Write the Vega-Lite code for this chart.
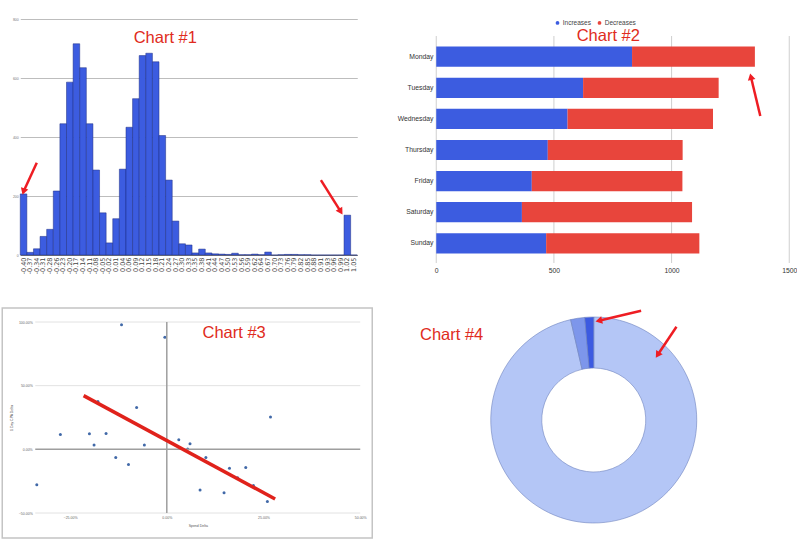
{
  "$schema": "https://vega.github.io/schema/vega-lite/v6.json",
  "background": "white",
  "padding": {"left": 1.25, "top": 17, "right": 0, "bottom": 0},
  "spacing": 33,
  "resolve": {"scale": {"color": "independent"}, "legend": {"color": "independent"}},
  "config": {
    "view": {"stroke": null},
    "font": "Liberation Sans",
    "axis": {"ticks": false, "domain": false, "labelFlush": false, "labelFont": "Liberation Sans", "titleFont": "Liberation Sans"}
  },
  "vconcat": [
    {
      "spacing": 37,
      "resolve": {"scale": {"color": "independent"}, "legend": {"color": "independent"}},
      "hconcat": [
        {
          "width": 337,
          "height": 236,
          "layer": [
            {
              "data": {"values": [
                {"bin": "-0.40", "count": 207}, {"bin": "-0.37", "count": 9}, {"bin": "-0.34", "count": 21},
                {"bin": "-0.31", "count": 63}, {"bin": "-0.28", "count": 87}, {"bin": "-0.26", "count": 217},
                {"bin": "-0.23", "count": 445}, {"bin": "-0.20", "count": 586}, {"bin": "-0.17", "count": 716},
                {"bin": "-0.14", "count": 635}, {"bin": "-0.11", "count": 445}, {"bin": "-0.08", "count": 288},
                {"bin": "-0.05", "count": 143}, {"bin": "-0.02", "count": 41}, {"bin": "0.01", "count": 123},
                {"bin": "0.04", "count": 291}, {"bin": "0.06", "count": 433}, {"bin": "0.09", "count": 530},
                {"bin": "0.12", "count": 676}, {"bin": "0.15", "count": 684}, {"bin": "0.18", "count": 655},
                {"bin": "0.21", "count": 405}, {"bin": "0.24", "count": 254}, {"bin": "0.27", "count": 115},
                {"bin": "0.30", "count": 38}, {"bin": "0.33", "count": 34}, {"bin": "0.35", "count": 7},
                {"bin": "0.38", "count": 20}, {"bin": "0.41", "count": 7}, {"bin": "0.44", "count": 4},
                {"bin": "0.47", "count": 3}, {"bin": "0.50", "count": 2}, {"bin": "0.53", "count": 6},
                {"bin": "0.56", "count": 1}, {"bin": "0.59", "count": 1}, {"bin": "0.62", "count": 3},
                {"bin": "0.64", "count": 1}, {"bin": "0.67", "count": 10}, {"bin": "0.70", "count": 0},
                {"bin": "0.73", "count": 1}, {"bin": "0.76", "count": 2}, {"bin": "0.79", "count": 2},
                {"bin": "0.82", "count": 1}, {"bin": "0.85", "count": 1}, {"bin": "0.88", "count": 0},
                {"bin": "0.91", "count": 0}, {"bin": "0.93", "count": 0}, {"bin": "0.96", "count": 0},
                {"bin": "0.99", "count": 0}, {"bin": "1.02", "count": 135}, {"bin": "1.05", "count": 0}
              ]},
              "mark": {"type": "bar", "color": "#3c5ce0", "stroke": "#1d2d80", "strokeWidth": 0.5},
              "encoding": {
                "x": {
                  "field": "bin", "type": "ordinal", "sort": null, "title": null,
                  "scale": {"paddingInner": 0, "paddingOuter": 0},
                  "axis": {"labelAngle": -90, "labelFontSize": 6.5, "labelFont": "DejaVu Sans", "labelColor": "#444",
                           "labelPadding": 2, "labelOverlap": false, "domain": true, "domainColor": "#777"}
                },
                "y": {
                  "field": "count", "type": "quantitative", "title": null,
                  "scale": {"domain": [0, 800]},
                  "axis": {"values": [0, 200, 400, 600, 800], "labelFontSize": 3.5, "labelColor": "#777",
                           "labelPadding": 2, "gridColor": "#bdbdbd", "minExtent": 10}
                }
              }
            },
            {
              "data": {"values": [{}]},
              "mark": {"type": "rule", "color": "#ee1d23", "strokeWidth": 2.5},
              "encoding": {
                "x": {"datum": "-0.34", "type": "ordinal"}, "x2": {"datum": "-0.40"},
                "y": {"datum": 313, "type": "quantitative"}, "y2": {"datum": 215}
              }
            },
            {
              "data": {"values": [{}]},
              "mark": {"type": "point", "shape": "triangle-up", "filled": true, "opacity": 1, "color": "#ee1d23", "size": 60, "angle": 198},
              "encoding": {"x": {"datum": "-0.40", "type": "ordinal"}, "y": {"datum": 215, "type": "quantitative"}}
            },
            {
              "data": {"values": [{}]},
              "mark": {"type": "rule", "color": "#ee1d23", "strokeWidth": 2.5},
              "encoding": {
                "x": {"datum": "0.91", "type": "ordinal"}, "x2": {"datum": "0.99"},
                "y": {"datum": 254, "type": "quantitative"}, "y2": {"datum": 147}
              }
            },
            {
              "data": {"values": [{}]},
              "mark": {"type": "point", "shape": "triangle-up", "filled": true, "opacity": 1, "color": "#ee1d23", "size": 60, "angle": 148},
              "encoding": {"x": {"datum": "0.99", "type": "ordinal"}, "y": {"datum": 147, "type": "quantitative"}}
            },
            {
              "data": {"values": [{}]},
              "mark": {"type": "text", "text": "Chart #1", "fontSize": 16.5, "color": "#e02b20", "dx": 3, "baseline": "middle"},
              "encoding": {"x": {"datum": "0.21", "type": "ordinal"}, "y": {"datum": 735, "type": "quantitative"}}
            }
          ]
        },
        {
          "width": 353,
          "height": 244,
          "resolve": {"scale": {"y": "independent"}},
          "layer": [
            {
              "data": {"values": [{"g": 0}, {"g": 500}, {"g": 1000}, {"g": 1500}]},
              "mark": {"type": "rule", "color": "#cfcfcf", "strokeWidth": 1},
              "encoding": {
                "x": {"field": "g", "type": "quantitative", "title": null},
                "y": {"datum": 0.547, "type": "quantitative", "scale": {"domain": [0, 7.846], "reverse": true, "nice": false, "zero": false}, "axis": null},
                "y2": {"datum": 7.846}
              }
            },
            {
              "data": {"values": [
                {"day": "Monday", "type": "Increases", "value": 832}, {"day": "Monday", "type": "Decreases", "value": 522},
                {"day": "Tuesday", "type": "Increases", "value": 624}, {"day": "Tuesday", "type": "Decreases", "value": 576},
                {"day": "Wednesday", "type": "Increases", "value": 558}, {"day": "Wednesday", "type": "Decreases", "value": 618},
                {"day": "Thursday", "type": "Increases", "value": 474}, {"day": "Thursday", "type": "Decreases", "value": 573},
                {"day": "Friday", "type": "Increases", "value": 406}, {"day": "Friday", "type": "Decreases", "value": 640},
                {"day": "Saturday", "type": "Increases", "value": 364}, {"day": "Saturday", "type": "Decreases", "value": 723},
                {"day": "Sunday", "type": "Increases", "value": 467}, {"day": "Sunday", "type": "Decreases", "value": 651}
              ]},
              "mark": {"type": "bar"},
              "encoding": {
                "y": {
                  "field": "day", "type": "nominal", "sort": null, "title": null,
                  "scale": {"paddingInner": 0.35, "paddingOuter": 0.598, "align": 0.742},
                  "axis": {"labelFontSize": 6.8, "labelColor": "#333", "labelPadding": 3.3, "minExtent": 41}
                },
                "x": {
                  "field": "value", "type": "quantitative", "stack": "zero", "title": null,
                  "scale": {"domain": [0, 1500], "nice": false},
                  "axis": {"values": [0, 500, 1000, 1500], "format": "d", "grid": false, "labelFontSize": 6.8, "labelColor": "#333", "labelPadding": 4}
                },
                "color": {
                  "field": "type", "type": "nominal",
                  "scale": {"domain": ["Increases", "Decreases"], "range": ["#3c5ce0", "#e8453c"]},
                  "legend": {"orient": "none", "legendX": 118, "legendY": 0.5, "direction": "horizontal", "title": null,
                             "symbolType": "circle", "symbolSize": 14, "symbolStrokeWidth": 0, "labelFontSize": 6.5,
                             "labelColor": "#444", "labelOffset": 2, "columnPadding": 5, "padding": 0}
                },
                "order": {"field": "type", "sort": "descending"}
              }
            },
            {
              "data": {"values": [{}]},
              "mark": {"type": "text", "text": "Chart #2", "fontSize": 16.5, "color": "#e02b20", "baseline": "middle"},
              "encoding": {
                "x": {"datum": 731, "type": "quantitative"},
                "y": {"datum": 0.547, "type": "quantitative", "scale": {"domain": [0, 7.846], "reverse": true, "nice": false, "zero": false}, "axis": null}
              }
            },
            {
              "data": {"values": [{}]},
              "mark": {"type": "rule", "color": "#ee1d23", "strokeWidth": 2.5},
              "encoding": {
                "x": {"datum": 1377, "type": "quantitative"}, "x2": {"datum": 1337},
                "y": {"datum": 3.119, "type": "quantitative", "scale": {"domain": [0, 7.846], "reverse": true, "nice": false, "zero": false}, "axis": null},
                "y2": {"datum": 1.855}
              }
            },
            {
              "data": {"values": [{}]},
              "mark": {"type": "point", "shape": "triangle-up", "filled": true, "opacity": 1, "color": "#ee1d23", "size": 60, "angle": 347},
              "encoding": {
                "x": {"datum": 1337, "type": "quantitative"},
                "y": {"datum": 1.855, "type": "quantitative", "scale": {"domain": [0, 7.846], "reverse": true, "nice": false, "zero": false}, "axis": null}
              }
            }
          ]
        }
      ]
    },
    {
      "spacing": 38.5,
      "resolve": {"scale": {"color": "independent"}, "legend": {"color": "independent"}},
      "hconcat": [
        {
          "width": 340,
          "height": 191,
          "layer": [
            {
              "data": {"values": [{}]},
              "mark": {"type": "rect", "fill": "transparent", "stroke": "#c4c4c4", "strokeWidth": 1.5},
              "encoding": {
                "x": {"datum": -0.4253, "type": "quantitative"}, "x2": {"datum": 0.531},
                "y": {"datum": -0.696, "type": "quantitative"}, "y2": {"datum": 1.11}
              }
            },
            {
              "data": {"values": [{"g": -0.5}, {"g": 0.5}, {"g": 1.0}]},
              "mark": {"type": "rule", "color": "#e2e2e2", "strokeWidth": 1},
              "encoding": {
                "x": {"datum": -0.34, "type": "quantitative"}, "x2": {"datum": 0.5},
                "y": {"field": "g", "type": "quantitative"}
              }
            },
            {
              "data": {"values": [
                {"spend": -0.117, "cpa": 0.979}, {"spend": -0.005, "cpa": 0.88}, {"spend": -0.275, "cpa": 0.117},
                {"spend": -0.2, "cpa": 0.122}, {"spend": -0.188, "cpa": 0.034}, {"spend": -0.178, "cpa": 0.375},
                {"spend": -0.157, "cpa": 0.125}, {"spend": -0.132, "cpa": -0.065}, {"spend": -0.099, "cpa": -0.12},
                {"spend": -0.078, "cpa": 0.328}, {"spend": -0.058, "cpa": 0.034}, {"spend": -0.336, "cpa": -0.279},
                {"spend": 0.031, "cpa": 0.076}, {"spend": 0.06, "cpa": 0.044}, {"spend": 0.054, "cpa": 0.003},
                {"spend": 0.101, "cpa": -0.065}, {"spend": 0.086, "cpa": -0.32}, {"spend": 0.148, "cpa": -0.34},
                {"spend": 0.162, "cpa": -0.148}, {"spend": 0.183, "cpa": -0.224}, {"spend": 0.204, "cpa": -0.143},
                {"spend": 0.224, "cpa": -0.284}, {"spend": 0.26, "cpa": -0.409}, {"spend": 0.268, "cpa": 0.253}
              ]},
              "mark": {"type": "point", "filled": true, "opacity": 1, "color": "#4169a8", "size": 9},
              "encoding": {
                "x": {
                  "field": "spend", "type": "quantitative",
                  "scale": {"domain": [-0.34, 0.5], "range": [15, 340], "nice": false, "zero": false},
                  "axis": {"title": "Spend Delta", "values": [-0.25, 0, 0.25, 0.5], "format": ".2%", "labelFontSize": 3.5,
                           "labelColor": "#666", "labelPadding": 2, "titleFontSize": 3.5, "titleFontWeight": "normal",
                           "titleColor": "#555", "titlePadding": 4.5, "gridColor": "#e2e2e2"}
                },
                "y": {
                  "field": "cpa", "type": "quantitative",
                  "scale": {"domain": [-0.5, 1.0], "nice": false, "zero": false},
                  "axis": {"title": "1 Day CPA Delta", "values": [-0.5, 0, 0.5, 1.0], "format": ".2%", "grid": false,
                           "offset": -15, "labelFontSize": 3.5, "labelColor": "#666", "labelPadding": 3,
                           "minExtent": 17, "maxExtent": 17, "titleFontSize": 3.5, "titleFontWeight": "normal",
                           "titleColor": "#555", "titlePadding": 4.5}
                }
              }
            },
            {
              "data": {"values": [{}]},
              "mark": {"type": "rule", "color": "#9e9e9e", "strokeWidth": 1.5},
              "encoding": {"x": {"datum": 0, "type": "quantitative"}}
            },
            {
              "data": {"values": [{}]},
              "mark": {"type": "rule", "color": "#9e9e9e", "strokeWidth": 1.5},
              "encoding": {
                "x": {"datum": -0.34, "type": "quantitative"}, "x2": {"datum": 0.5},
                "y": {"datum": 0, "type": "quantitative"}
              }
            },
            {
              "data": {"values": [{}]},
              "mark": {"type": "rule", "color": "#e0221b", "strokeWidth": 3.5},
              "encoding": {
                "x": {"datum": -0.215, "type": "quantitative"}, "x2": {"datum": 0.28},
                "y": {"datum": 0.422, "type": "quantitative"}, "y2": {"datum": -0.39}
              }
            },
            {
              "data": {"values": [{}]},
              "mark": {"type": "text", "text": "Chart #3", "fontSize": 16.5, "color": "#e02b20", "baseline": "middle"},
              "encoding": {"x": {"datum": 0.174, "type": "quantitative"}, "y": {"datum": 0.914, "type": "quantitative"}}
            }
          ]
        },
        {
          "width": 206,
          "height": 196,
          "layer": [
            {
              "data": {"values": [
                {"slice": "Large", "share": 96.4},
                {"slice": "Medium", "share": 2.2},
                {"slice": "Small", "share": 1.4}
              ]},
              "mark": {"type": "arc", "radius": 103, "innerRadius": 52, "stroke": "#6f83bd", "strokeWidth": 0.6},
              "encoding": {
                "theta": {"field": "share", "type": "quantitative", "stack": true},
                "color": {"field": "slice", "type": "nominal", "legend": null,
                          "scale": {"domain": ["Large", "Medium", "Small"], "range": ["#b4c6f6", "#7d96eb", "#3c5ae1"]}},
                "order": {"field": "share", "sort": "descending"}
              }
            },
            {
              "data": {"values": [{}]},
              "mark": {"type": "text", "text": "Chart #4", "fontSize": 16.5, "color": "#e02b20", "baseline": "middle"},
              "encoding": {
                "x": {"datum": -1.38, "type": "quantitative", "scale": {"domain": [-1, 1], "nice": false, "zero": false}, "axis": null},
                "y": {"datum": 0.83, "type": "quantitative", "scale": {"domain": [-0.9515, 0.9515], "nice": false, "zero": false},
                      "axis": {"labels": false, "grid": false, "title": null, "minExtent": 79, "maxExtent": 79}}
              }
            },
            {
              "data": {"values": [{}]},
              "mark": {"type": "rule", "color": "#ee1d23", "strokeWidth": 2.5},
              "encoding": {
                "x": {"datum": 0.46, "type": "quantitative", "scale": {"domain": [-1, 1], "nice": false, "zero": false}, "axis": null},
                "x2": {"datum": 0.049},
                "y": {"datum": 1.06, "type": "quantitative", "scale": {"domain": [-0.9515, 0.9515], "nice": false, "zero": false},
                      "axis": {"labels": false, "grid": false, "title": null, "minExtent": 79, "maxExtent": 79}},
                "y2": {"datum": 0.964}
              }
            },
            {
              "data": {"values": [{}]},
              "mark": {"type": "point", "shape": "triangle-up", "filled": true, "opacity": 1, "color": "#ee1d23", "size": 60, "angle": 257},
              "encoding": {
                "x": {"datum": 0.049, "type": "quantitative", "scale": {"domain": [-1, 1], "nice": false, "zero": false}, "axis": null},
                "y": {"datum": 0.964, "type": "quantitative", "scale": {"domain": [-0.9515, 0.9515], "nice": false, "zero": false},
                      "axis": {"labels": false, "grid": false, "title": null, "minExtent": 79, "maxExtent": 79}}
              }
            },
            {
              "data": {"values": [{}]},
              "mark": {"type": "rule", "color": "#ee1d23", "strokeWidth": 2.5},
              "encoding": {
                "x": {"datum": 0.803, "type": "quantitative", "scale": {"domain": [-1, 1], "nice": false, "zero": false}, "axis": null},
                "x2": {"datum": 0.62},
                "y": {"datum": 0.906, "type": "quantitative", "scale": {"domain": [-0.9515, 0.9515], "nice": false, "zero": false},
                      "axis": {"labels": false, "grid": false, "title": null, "minExtent": 79, "maxExtent": 79}},
                "y2": {"datum": 0.631}
              }
            },
            {
              "data": {"values": [{}]},
              "mark": {"type": "point", "shape": "triangle-up", "filled": true, "opacity": 1, "color": "#ee1d23", "size": 60, "angle": 213},
              "encoding": {
                "x": {"datum": 0.62, "type": "quantitative", "scale": {"domain": [-1, 1], "nice": false, "zero": false}, "axis": null},
                "y": {"datum": 0.631, "type": "quantitative", "scale": {"domain": [-0.9515, 0.9515], "nice": false, "zero": false},
                      "axis": {"labels": false, "grid": false, "title": null, "minExtent": 79, "maxExtent": 79}}
              }
            }
          ]
        }
      ]
    }
  ]
}
